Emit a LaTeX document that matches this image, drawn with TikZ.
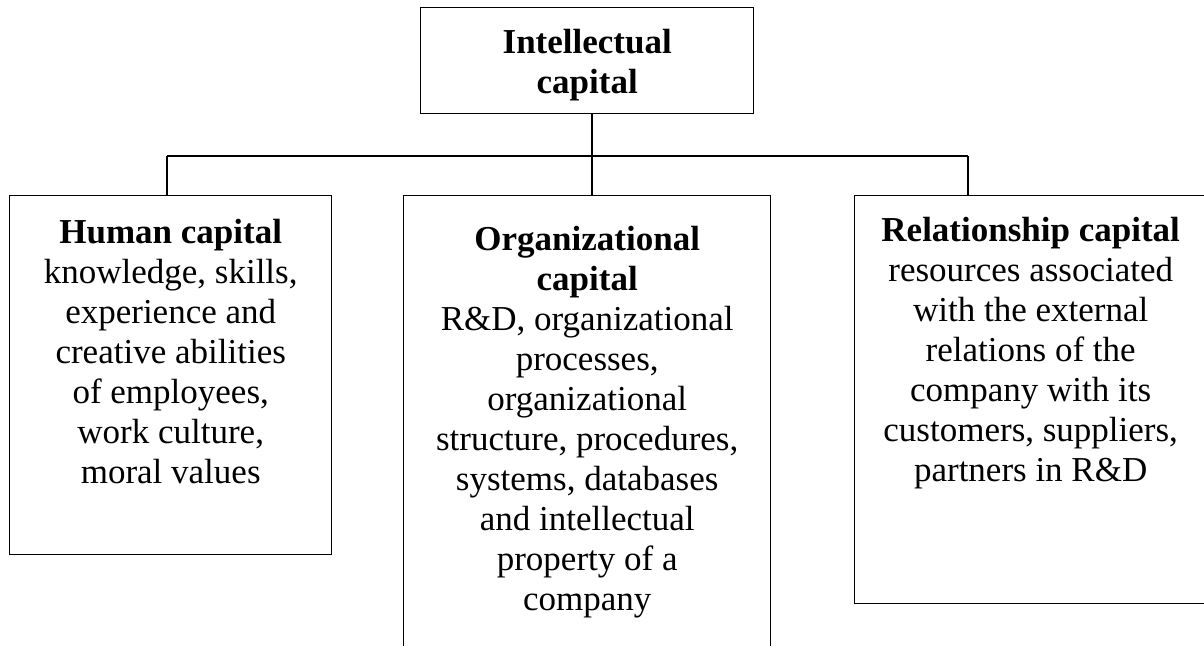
\documentclass[tikz,border=0pt]{standalone}
\usepackage{fontspec}
\setmainfont{Liberation Serif}
\usepackage{tikz}
\usetikzlibrary{calc}
\newcommand{\boxtext}[4]{\parbox[t][#2][t]{#1}{\centering\vspace*{#3}#4}}

\begin{document}
\begin{tikzpicture}[
    x = 1pt, y = -1pt,
    font = \fontsize{35}{40}\selectfont,
    capbox/.style = {draw, line width = 1.4pt, inner sep = 0pt, anchor = north west},
    link/.style = {line width = 1.4pt},
]

\fill[white] (0,0) rectangle (1204,645);
\useasboundingbox (0,0) rectangle (1204,645);
\clip (0,0) rectangle (1204,645);

\node[capbox] (ic) at (420,7) {\boxtext{333pt}{106pt}{22pt}{\textbf{Intellectual}\\ \textbf{capital}}};

\node[capbox] (human) at (9,195) {\boxtext{322pt}{359pt}{24pt}{\textbf{Human capital}\\ knowledge, skills,\\ experience and\\ creative abilities\\ of employees,\\ work culture,\\ moral values}};

\node[capbox] (org) at (403,195) {\boxtext{367pt}{470pt}{31pt}{\textbf{Organizational}\\ \textbf{capital}\\ R\&D, organizational\\ processes,\\ organizational\\ structure, procedures,\\ systems, databases\\ and intellectual\\ property of a\\ company}};

\node[capbox] (rel) at (854,195) {\boxtext{352pt}{408pt}{22pt}{\textbf{Relationship capital}\\ resources associated\\ with the external\\ relations of the\\ company with its\\ customers, suppliers,\\ partners in R\&D}};

% tree links
\coordinate (trunk) at (592,156);
\coordinate (busL) at (167,156);
\coordinate (busR) at (968,156);
\draw[link] (ic.south -| trunk) -- (trunk);
\draw[link] (busL) -- (busR);
\draw[link] (busL) -- (busL |- human.north);
\draw[link] (trunk) -- (trunk |- org.north);
\draw[link] (busR) -- (busR |- rel.north);

\end{tikzpicture}
\end{document}
